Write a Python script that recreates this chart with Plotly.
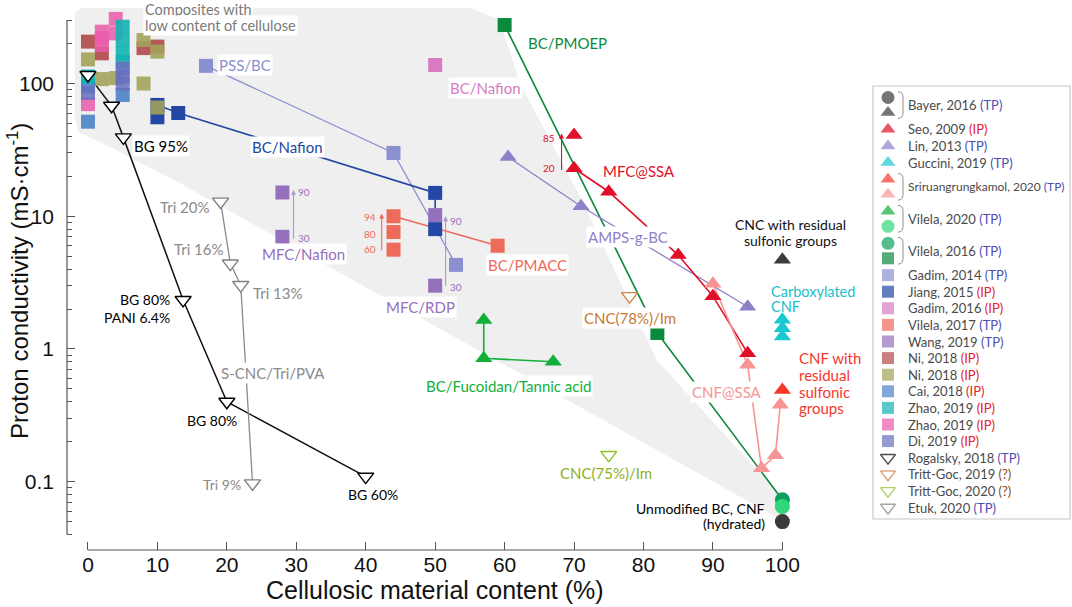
import math
import plotly.graph_objects as go

# ---------------- data (x: cellulosic material content %, y: proton conductivity mS/cm) ----------------
ni_red_x = [0, 2, 8, 10]
ni_red_y = [207, 169, 185, 190]
ni_olive_x = [0, 2, 4, 8, 8, 10, 10]
ni_olive_y = [152, 108, 110, 213, 100, 174, 66]
cai_x = [0, 0, 5]
cai_y = [51.6, 95, 82]
zhao_teal_x = [0, 5, 5, 5, 5]
zhao_teal_y = [113, 268, 213, 169, 146]
zhao_pink_x = [0, 2, 2, 2, 4, 4]
zhao_pink_y = [70, 246, 219, 195, 307, 239]
di_x = [0, 5, 5, 5]
di_y = [85, 130, 113, 100]

jiang_x = [10, 13, 50, 50]
jiang_y = [69, 60, 15, 8]
jiang_extra_x = [10]
jiang_extra_y = [55.7]
gadim14_x = [17, 44, 53]
gadim14_y = [136, 30, 4.3]
gadim16_x = [50]
gadim16_y = [138]
wang_x = [28, 28, 50, 50]
wang_y = [15.1, 7.0, 10.2, 3.0]
vilela17_x = [44, 44, 44, 59]
vilela17_y = [10, 7.6, 5.6, 6.0]
vilela16_x = [60, 82, 100]
vilela16_y = [276, 1.32, 0.073]
vilela20_tri_x = [57, 57, 67]
vilela20_tri_y = [1.65, 0.85, 0.8]
vilela20_circ_x = [100]
vilela20_circ_y = [0.065]
seo_x = [70, 70, 75, 85, 90, 95]
seo_y = [41, 23, 15.3, 5.1, 2.5, 0.93]
lin_x = [60.5, 71, 95]
lin_y = [28, 11.9, 2.08]
guccini_x = [100, 100, 100]
guccini_y = [1.66, 1.43, 1.24]
bayer_circ_x = [100]
bayer_circ_y = [0.05]
bayer_tri_x = [100]
bayer_tri_y = [4.7]
srir_red_x = [100]
srir_red_y = [0.49]
srir_pink_x = [90, 95, 97, 99, 99.7]
srir_pink_y = [3.1, 0.76, 0.126, 0.158, 0.38]
rogalsky_x = [0, 3.4, 5.1, 13.7, 20, 40]
rogalsky_y = [116, 68, 39.3, 2.34, 0.40, 0.109]
tritt19_x = [78]
tritt19_y = [2.5]
tritt20_x = [75]
tritt20_y = [0.159]
etuk_x = [19.1, 20.5, 22.0, 23.7]
etuk_y = [12.9, 4.4, 3.03, 0.097]

# shaded "trend" region
region_x = [-1.9, -1.0, 55.0, 59.3, 62.2, 71.1, 81.9, 92.4, 101.1, 100.4, 49.2, 13.2, 3.2, -1.4, -1.9]
region_y = [340, 372, 372, 301, 101, 13.3, 0.826, 0.206, 0.0667, 0.0497, 1.57, 17.8, 33.3, 43.2, 58]

# axis ticks
x_ticks = [0, 10, 20, 30, 40, 50, 60, 70, 80, 90, 100]
y_ticks = [0.1, 1, 10, 100]
y_ticktext = ["0.1", "1", "10", "100"]
y_minor = [0.04, 0.05, 0.06, 0.07, 0.08, 0.09, 0.2, 0.3, 0.4, 0.5, 0.6, 0.7, 0.8, 0.9,
           2, 3, 4, 5, 6, 7, 8, 9, 20, 30, 40, 50, 60, 70, 80, 90, 200, 300]

# legend
TP, IP, UNK = "TP", "IP", "?"
legend_entries = [
    ("Bayer, 2016", TP, [("circle", "#3b3b3b"), ("triangle-up", "#3b3b3b")]),
    ("Seo, 2009", IP, [("triangle-up", "#e0102a")]),
    ("Lin, 2013", TP, [("triangle-up", "#8f80c8")]),
    ("Guccini, 2019", TP, [("triangle-up", "#19c8d0")]),
    ("Sriruangrungkamol, 2020", TP, [("triangle-up", "#f5382a"), ("triangle-up", "#f89494")]),
    ("Vilela, 2020", TP, [("triangle-up", "#12b03a"), ("circle", "#2fd77a")]),
    ("Vilela, 2016", TP, [("circle", "#0e9f5e"), ("square", "#0b8a3c")]),
    ("Gadim, 2014", TP, [("square", "#8a90d0")]),
    ("Jiang, 2015", IP, [("square", "#2347a5")]),
    ("Gadim, 2016", IP, [("square", "#d77cc2")]),
    ("Vilela, 2017", TP, [("square", "#ee6a5a")]),
    ("Wang, 2019", TP, [("square", "#9470bd")]),
    ("Ni, 2018", IP, [("square", "#b04848")]),
    ("Ni, 2018", IP, [("square", "#a2a25a")]),
    ("Cai, 2018", IP, [("square", "#4a82c6")]),
    ("Zhao, 2019", IP, [("square", "#12b2b2")]),
    ("Zhao, 2019", IP, [("square", "#ea5aaa")]),
    ("Di, 2019", IP, [("square", "#6670be")]),
    ("Rogalsky, 2018", TP, [("triangle-down-open", "#000000")]),
    ("Tritt-Goc, 2019", UNK, [("triangle-down-open", "#d0834a")]),
    ("Tritt-Goc, 2020", UNK, [("triangle-down-open", "#8fbf2a")]),
    ("Etuk, 2020", TP, [("triangle-down-open", "#808080")]),
]
tag_colors = {TP: "#4d4db0", IP: "#e3202a", UNK: "#8b4a1d"}

# ---------------- figure ----------------
W, H = 1072, 607
PL, PR, PT, PB = 67, 865, 5, 550          # main plot area (px)
LL, LR, LT, LB = 873, 1070, 86, 519       # legend box (px)
TXT = "Lato"
AX = "Liberation Sans"

fig = go.Figure()

fig.add_trace(go.Scatter(x=region_x, y=region_y, fill="toself", fillcolor="#efefef",
                         mode="lines", line=dict(width=0, color="#efefef"),
                         hoverinfo="skip", showlegend=False))


def line(x, y, color, width=1.5):
    fig.add_trace(go.Scatter(x=x, y=y, mode="lines", line=dict(color=color, width=width),
                             hoverinfo="skip", showlegend=False))


def pts(x, y, color, symbol, size, opacity=1.0, lcolor=None, lwidth=0):
    fig.add_trace(go.Scatter(x=x, y=y, mode="markers", showlegend=False, hoverinfo="skip",
                             marker=dict(symbol=symbol, size=size, color=color, opacity=opacity,
                                         line=dict(color=lcolor or color, width=lwidth))))


SQ, TRI, CIR, TRD = 14, 15, 15, 14

# lines
line(gadim14_x, gadim14_y, "#8a90d0", 1.3)
line(jiang_x, jiang_y, "#2347a5", 1.6)
line([vilela17_x[0], vilela17_x[3]], [vilela17_y[0], vilela17_y[3]], "#ee6a5a", 1.6)
line(vilela16_x, vilela16_y, "#0b8a3c", 1.6)
line(vilela20_tri_x, vilela20_tri_y, "#12b03a", 1.6)
line(lin_x, lin_y, "#8f80c8", 1.3)
line(seo_x[1:], seo_y[1:], "#e0102a", 1.6)
line(srir_pink_x, srir_pink_y, "#f89494", 1.6)
line(rogalsky_x, rogalsky_y, "#111111", 1.5)
line(etuk_x, etuk_y, "#8a8a8a", 1.3)

# Jiang (drawn below the low-cellulose cluster)
pts(jiang_extra_x, jiang_extra_y, "#2347a5", "square", SQ)
pts(jiang_x, jiang_y, "#2347a5", "square", SQ)

# low-cellulose cluster
pts(ni_red_x, ni_red_y, "#b04848", "square", SQ, 0.9)
pts(ni_olive_x, ni_olive_y, "#a2a25a", "square", SQ, 0.9)
pts(cai_x, cai_y, "#4a82c6", "square", SQ, 0.9)
pts(zhao_pink_x, zhao_pink_y, "#ea5aaa", "square", SQ, 0.85)
pts(zhao_teal_x, zhao_teal_y, "#12b2b2", "square", SQ, 0.9)
pts(di_x, di_y, "#6670be", "square", SQ, 0.85)

pts(gadim14_x, gadim14_y, "#8a90d0", "square", SQ)
pts(gadim16_x, gadim16_y, "#d77cc2", "square", SQ)
pts(wang_x, wang_y, "#9470bd", "square", SQ)
pts(vilela17_x, vilela17_y, "#ee6a5a", "square", SQ)
pts(vilela16_x[:2], vilela16_y[:2], "#0b8a3c", "square", SQ)
pts(vilela16_x[2:], vilela16_y[2:], "#0e9f5e", "circle", CIR)
pts(vilela20_tri_x, vilela20_tri_y, "#12b03a", "triangle-up", TRI)
pts(vilela20_circ_x, vilela20_circ_y, "#2fd77a", "circle", CIR)
pts(bayer_circ_x, bayer_circ_y, "#3b3b3b", "circle", CIR)
pts(bayer_tri_x, bayer_tri_y, "#3b3b3b", "triangle-up", TRI)
pts(lin_x, lin_y, "#8f80c8", "triangle-up", TRI)
pts(seo_x, seo_y, "#e0102a", "triangle-up", TRI)
pts(srir_pink_x, srir_pink_y, "#f89494", "triangle-up", TRI)
pts(srir_red_x, srir_red_y, "#f5382a", "triangle-up", TRI)
pts(guccini_x, guccini_y, "#19c8d0", "triangle-up", TRI)
pts(rogalsky_x, rogalsky_y, "white", "triangle-down", TRD, 1.0, "#000000", 1.4)
pts(etuk_x, etuk_y, "white", "triangle-down", TRD, 1.0, "#808080", 1.4)
pts(tritt19_x, tritt19_y, "white", "triangle-down", TRD, 1.0, "#d0834a", 1.4)
pts(tritt20_x, tritt20_y, "white", "triangle-down", TRD, 1.0, "#8fbf2a", 1.4)

# ---------------- annotations ----------------
ann = []


def lab(text, x, yv, color, size=15, xanchor="center", bg=True):
    ann.append(dict(x=x, y=math.log10(yv), xref="x", yref="y", text=text, showarrow=False,
                    xanchor=xanchor, yanchor="middle",
                    font=dict(family=TXT, size=size, color=color),
                    bgcolor="white" if bg else None, borderpad=1))


def arrow(x, y_from, y_to, color):
    ann.append(dict(x=x, y=math.log10(y_to), ax=x, ay=math.log10(y_from), xref="x", yref="y",
                    axref="x", ayref="y", text="", showarrow=True, arrowhead=2,
                    arrowsize=0.9, arrowwidth=1.1, arrowcolor=color, standoff=0, startstandoff=0))


GRAY = "#8a8a8a"
lab("Composites with", 7.9, 359, "#7a7a7a", 14.5, "left")
lab("low content of cellulose", 7.9, 272, "#7a7a7a", 14.5, "left")
lab("PSS/BC", 18.6, 138, "#8a90d0", 15, "left")
lab("BC/Nafion", 23.3, 33.4, "#2347a5", 15, "left")
lab("BG 95%", 6.3, 33.9, "#000000", 15, "left")
lab("BC/PMOEP", 69.1, 202, "#0b8a3c", 15)
lab("BC/Nafion", 57.2, 92.7, "#d77cc2", 15)
lab("Tri 20%", 17.9, 11.7, GRAY, 15, "right", False)
lab("Tri 16%", 19.9, 5.68, GRAY, 15, "right", False)
lab("Tri 13%", 23.5, 2.64, GRAY, 15, "left", False)
lab("MFC/Nafion", 31.0, 5.2, "#9470bd", 15)
lab("90", 30.0, 15.2, "#9470bd", 10, "left", False)
lab("30", 30.0, 6.84, "#9470bd", 10, "left", False)
lab("94", 41.8, 9.86, "#ee6a5a", 10, "right", False)
lab("80", 41.8, 7.36, "#ee6a5a", 10, "right", False)
lab("60", 41.8, 5.68, "#ee6a5a", 10, "right", False)
lab("BC/PMACC", 57.3, 4.29, "#ee6a5a", 15, "left")
lab("MFC/RDP", 42.7, 2.08, "#9470bd", 15, "left")
lab("90", 51.9, 9.23, "#9470bd", 10, "left", False)
lab("30", 51.9, 2.93, "#9470bd", 10, "left", False)
lab("BC/Fucoidan/Tannic acid", 72.7, 0.526, "#12b03a", 15, "right")
lab("CNC(78%)/Im", 78.0, 1.71, "#c87830", 15)
lab("CNC(75%)/Im", 74.6, 0.116, "#8fb020", 15)
lab("Unmodified BC, CNF", 97.8, 0.063, "#000000", 14, "right", False)
lab("(hydrated)", 97.8, 0.0485, "#000000", 14, "right", False)
lab("CNF@SSA", 92.0, 0.475, "#f89494", 15)
lab("CNF with", 102.1, 0.851, "#f5382a", 15, "left", False)
lab("residual", 102.1, 0.637, "#f5382a", 15, "left", False)
lab("sulfonic", 102.1, 0.477, "#f5382a", 15, "left", False)
lab("groups", 102.1, 0.357, "#f5382a", 15, "left", False)
lab("Carboxylated", 98.1, 2.72, "#19c0c8", 14.5, "left", False)
lab("CNF", 98.1, 2.08, "#19c0c8", 14.5, "left", False)
lab("CNC with residual", 101.2, 8.71, "#111111", 14, "center", False)
lab("sulfonic groups", 101.2, 6.52, "#111111", 14, "center", False)
lab("MFC@SSA", 79.3, 21.9, "#e0102a", 15)
lab("85", 67.6, 38.7, "#e0102a", 10, "right", False)
lab("20", 67.6, 23.0, "#e0102a", 10, "right", False)
lab("AMPS-g-BC", 77.8, 6.98, "#8f80c8", 15)
lab("S-CNC/Tri/PVA", 26.6, 0.656, GRAY, 15)
lab("BG 80%", 12.1, 2.34, "#000000", 14, "right", False)
lab("PANI 6.4%", 12.1, 1.74, "#000000", 14, "right", False)
lab("BG 80%", 17.8, 0.288, "#000000", 14)
lab("BG 60%", 41.1, 0.0807, "#000000", 14)
lab("Tri 9%", 22.3, 0.0944, GRAY, 14, "right", False)

arrow(29.6, 6.6, 15.8, "#a898d0")
arrow(51.5, 2.9, 10.0, "#a898d0")
arrow(42.3, 5.4, 10.5, "#ee6a5a")
arrow(68.2, 21.7, 42.0, "#e0102a")

# axis titles (centred on the drawn axis lines)
ann.append(dict(x=50, y=(H - 590) / H, xref="x", yref="paper", showarrow=False,
                text="Cellulosic material content (%)", xanchor="center", yanchor="middle",
                font=dict(family=AX, size=25, color="#111111")))
ann.append(dict(x=18 / W, y=(H - 281) / H, xref="paper", yref="paper", showarrow=False,
                text="Proton conductivity (mS·cm<sup>-1</sup>)", textangle=-90,
                xanchor="center", yanchor="middle",
                font=dict(family=AX, size=24, color="#111111")))

# ---------------- legend (drawn on its own small axes) ----------------
shapes = []
row_single, row_double = 16.6, 32.0
centre = None
prev_h = None
leg_mx, leg_my, leg_sym, leg_col = [], [], [], []
for name, tag, syms in legend_entries:
    h = row_double if len(syms) > 1 else row_single
    centre = 19.0 if centre is None else centre + prev_h / 2 + h / 2
    prev_h = h
    if len(syms) == 1:
        offs = [0.0]
    else:
        offs = [-7.5, 7.5]
        shapes.append(dict(type="path", xref="x2", yref="y2",
                           path=f"M 25,{centre-13.3} Q 30,{centre-13.3} 30,{centre-8} "
                                f"L 30,{centre+8} Q 30,{centre+13.3} 25,{centre+13.3}",
                           line=dict(color="#909090", width=1)))
    for (sym, col), o in zip(syms, offs):
        leg_mx.append(15)
        leg_my.append(centre + o)
        leg_sym.append(sym)
        leg_col.append(col)
    fsize = 12 if len(name) > 16 else 13
    ann.append(dict(x=32.5, y=centre, xref="x2", yref="y2", showarrow=False, xanchor="left",
                    yanchor="middle", font=dict(family=TXT, size=fsize, color="#4a4a4a"),
                    text=f"{name} <span style='color:{tag_colors[tag]}'>({tag})</span>"))

leg_size = [13 if s.startswith("triangle") else (12 if s == "square" else 13) for s in leg_sym]
fig.add_trace(go.Scatter(x=leg_mx, y=leg_my, xaxis="x2", yaxis="y2", mode="markers",
                         showlegend=False, hoverinfo="skip",
                         marker=dict(symbol=leg_sym, color=leg_col, size=leg_size,
                                     line=dict(color=leg_col, width=[1.4 if s.endswith("open") else 0
                                                                     for s in leg_sym]))))

shapes.append(dict(type="rect", xref="x2 domain", yref="y2 domain", x0=0, x1=1, y0=0, y1=1,
                   line=dict(color="#c8c8c8", width=1.2), fillcolor="rgba(0,0,0,0)"))
# offset axis lines
shapes.append(dict(type="line", xref="x", yref="y domain", x0=0, x1=100, y0=0, y1=0,
                   line=dict(color="#555555", width=1.2)))
shapes.append(dict(type="line", xref="x domain", yref="y", x0=0, x1=0, y0=0.04, y1=300,
                   line=dict(color="#555555", width=1.2)))

fig.update_layout(
    width=W, height=H, margin=dict(l=0, r=0, t=0, b=0), autosize=False,
    paper_bgcolor="white", plot_bgcolor="white", showlegend=False,
    annotations=ann, shapes=shapes,
    xaxis=dict(domain=[PL / W, PR / W], range=[-3.02, 111.9], tickvals=x_ticks,
               ticks="inside", ticklen=8, tickwidth=1.2, tickcolor="#555555",
               showline=False, showgrid=False, zeroline=False, automargin=False,
               tickfont=dict(family=AX, size=21, color="#111111")),
    yaxis=dict(domain=[(H - PB) / H, (H - PT) / H], type="log", range=[-1.515, 2.592],
               tickvals=y_ticks, ticktext=y_ticktext, ticks="inside", ticklen=8, tickwidth=1.2,
               tickcolor="#555555", showline=False, showgrid=False, zeroline=False,
               automargin=False, ticklabelstandoff=12,
               minor=dict(tickvals=y_minor, ticks="inside", ticklen=4.5, tickwidth=1,
                          tickcolor="#555555", showgrid=False),
               tickfont=dict(family=AX, size=21, color="#111111")),
    xaxis2=dict(domain=[LL / W, LR / W], range=[0, LR - LL], visible=False, fixedrange=True),
    yaxis2=dict(domain=[(H - LB) / H, (H - LT) / H], range=[LB - LT, 0], visible=False,
                fixedrange=True),
)

fig.write_html("out.html", config={"displayModeBar": False},
               post_script="document.body.style.margin='0';")
